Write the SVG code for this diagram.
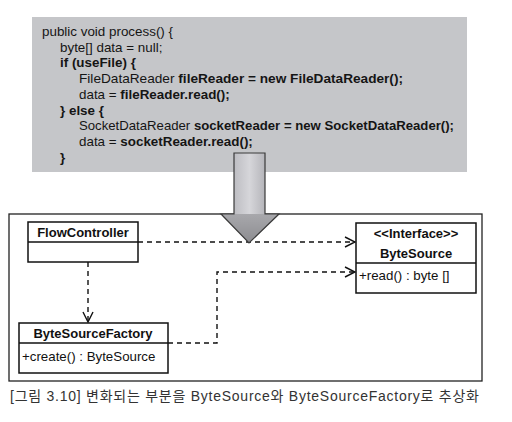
<svg xmlns="http://www.w3.org/2000/svg" width="512" height="422" viewBox="0 0 512 422">
<style>
.code{font-family:"Liberation Sans",Arial,sans-serif;font-size:13.4px;fill:#151515}
.b{font-weight:bold}
.box{fill:#fff;stroke:#111;stroke-width:1.5}
.ttl{font-family:"Liberation Sans",Arial,sans-serif;font-size:13px;font-weight:bold;fill:#111}
.op{font-family:"Liberation Sans",Arial,sans-serif;font-size:13.3px;fill:#111}
.dep{fill:none;stroke:#111;stroke-width:1.4;stroke-dasharray:5,4}
.cap{font-family:"Liberation Sans","Noto Sans CJK KR",sans-serif;font-size:14px;fill:#333}
</style>
<defs>
<marker id="open" viewBox="0 0 12 12" refX="11" refY="6" markerWidth="12" markerHeight="12" markerUnits="userSpaceOnUse" orient="auto">
<path d="M1,1 L11,6 L1,11" fill="none" stroke="#111" stroke-width="1.4"/>
</marker>
<linearGradient id="shaft" x1="0" y1="0" x2="1" y2="0">
<stop offset="0" stop-color="#bdbdc2"/>
<stop offset="0.5" stop-color="#d6d6da"/>
<stop offset="1" stop-color="#b5b5ba"/>
</linearGradient>
<linearGradient id="head" x1="0" y1="0" x2="0" y2="1">
<stop offset="0" stop-color="#a8a8ac"/>
<stop offset="1" stop-color="#8c8c90"/>
</linearGradient>
</defs>
<rect width="512" height="422" fill="#fff"/>

<g id="code">
<rect x="32" y="17" width="435" height="155" fill="#c5c6c9"/>
<text class="code" x="42" y="36">public void process() {</text>
<text class="code" x="60" y="51.7">byte[] data = null;</text>
<text class="code b" x="60" y="67.4">if (useFile) {</text>
<text class="code" x="79" y="83.1" textLength="324" lengthAdjust="spacingAndGlyphs">FileDataReader <tspan class="b">fileReader = new FileDataReader();</tspan></text>
<text class="code" x="79" y="98.8">data = <tspan class="b">fileReader.read();</tspan></text>
<text class="code b" x="60" y="114.5">} else {</text>
<text class="code" x="79" y="130.2" textLength="375" lengthAdjust="spacingAndGlyphs">SocketDataReader <tspan class="b">socketReader = new SocketDataReader();</tspan></text>
<text class="code" x="79" y="145.9">data = <tspan class="b">socketReader.read();</tspan></text>
<text class="code b" x="60" y="161.6">}</text>
</g>

<g id="frame">
<rect x="9" y="214" width="473" height="167" fill="none" stroke="#222" stroke-width="1.3"/>
</g>

<g id="connectors">
<path class="dep" d="M138,242 H355" marker-end="url(#open)"/>
<path class="dep" d="M88,262 V322" marker-end="url(#open)"/>
<path class="dep" d="M168,343 H217 V272 H355" marker-end="url(#open)"/>
</g>

<g id="bigArrow">
<rect x="234" y="153" width="31" height="62" fill="url(#shaft)"/>
<path d="M221,214 L279,214 L249,243 Z" fill="url(#head)"/>
<path d="M234,153 H265 V214 H279 L249,243 L221,214 H234 Z" fill="none" stroke="#3a3a3a" stroke-width="1.2" stroke-linejoin="miter"/>
</g>

<g id="FlowController">
<rect class="box" x="28" y="222" width="110" height="40"/>
<line x1="28" y1="242" x2="138" y2="242" stroke="#111" stroke-width="1.5"/>
<text class="ttl" x="83" y="237" text-anchor="middle">FlowController</text>
</g>

<g id="ByteSourceFactory">
<rect class="box" x="19" y="323" width="149" height="50"/>
<line x1="19" y1="343" x2="168" y2="343" stroke="#111" stroke-width="1.5"/>
<text class="ttl" x="93" y="338" text-anchor="middle">ByteSourceFactory</text>
<text class="op" x="22" y="361">+create() : ByteSource</text>
</g>

<g id="ByteSource">
<rect class="box" x="356" y="223" width="120" height="70"/>
<line x1="356" y1="263" x2="476" y2="263" stroke="#111" stroke-width="1.5"/>
<text class="ttl" x="416" y="238" text-anchor="middle">&lt;&lt;Interface&gt;&gt;</text>
<text class="ttl" x="416" y="258" text-anchor="middle">ByteSource</text>
<text class="op" x="359" y="280">+read() : byte []</text>
</g>

<text class="cap" x="10" y="401" textLength="469" lengthAdjust="spacing">[그림 3.10] 변화되는 부분을 ByteSource와 ByteSourceFactory로 추상화</text>
</svg>
